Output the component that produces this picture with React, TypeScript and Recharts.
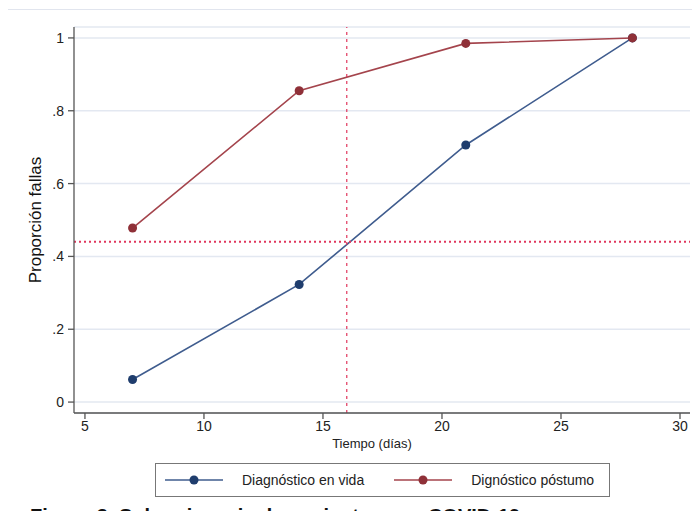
import React from 'react';
import {
  LineChart,
  Line,
  XAxis,
  YAxis,
  CartesianGrid,
  ReferenceLine,
} from 'recharts';

// days since onset
const xDays = [7, 14, 21, 28];
// proportion of failures per series
const vidaValues = [0.062, 0.323, 0.706, 1.0];
const postumoValues = [0.478, 0.855, 0.985, 1.0];

const xTicks = [5, 10, 15, 20, 25, 30];
const yTicks = [0, 0.2, 0.4, 0.6, 0.8, 1];

const cutoffDay = 16;
const cutoffProp = 0.44;

const SERIES = [
  { key: 'vida', name: 'Diagnóstico en vida', line: '#3f5c8e', dot: '#1f3d6d' },
  { key: 'postumo', name: 'Dignóstico póstumo', line: '#a4444c', dot: '#8f3038' },
];

const FONT = '"Liberation Sans", Arial, sans-serif';
const AXIS_COLOR = '#555';
const REF_COLOR = '#e0365c';

const fmtY = (v: number) => (v === 0 ? '0' : v === 1 ? '1' : String(v).replace(/^0/, ''));

export default function App() {
  const data = xDays.map((d, i) => ({
    dia: d,
    vida: vidaValues[i],
    postumo: postumoValues[i],
  }));

  return (
    <div
      style={{
        position: 'relative',
        width: 700,
        height: 519,
        margin: -8,
        overflow: 'hidden',
        background: '#fff',
        fontFamily: FONT,
      }}
    >
      <div
        style={{
          position: 'absolute',
          left: 5,
          top: 9,
          width: 740,
          height: 560,
          border: '1px solid #e1e5ee',
        }}
      />
      <div style={{ position: 'absolute', left: 0, top: 0 }}>
        <LineChart
          width={700}
          height={519}
          data={data}
          margin={{ top: 27, right: 10, bottom: 82, left: 14 }}
        >
          <CartesianGrid
            horizontal
            vertical={false}
            stroke="#e3e8f1"
            strokeWidth={1.5}
          />
          <XAxis
            dataKey="dia"
            type="number"
            domain={[4.54, 30.42]}
            ticks={xTicks}
            allowDataOverflow
            height={24}
            stroke={AXIS_COLOR}
            strokeWidth={1.3}
            tickSize={6}
            tickMargin={2}
            tick={{ fill: '#222', fontSize: 14, fontFamily: FONT }}
            label={{
              value: 'Tiempo (días)',
              position: 'bottom',
              offset: 2,
              dx: -10,
              fill: '#222',
              fontSize: 13,
              fontFamily: FONT,
            }}
          />
          <YAxis
            type="number"
            domain={[-0.03, 1.03]}
            ticks={yTicks}
            allowDataOverflow
            width={60}
            stroke={AXIS_COLOR}
            strokeWidth={1.3}
            tickSize={6}
            tickMargin={4}
            tickFormatter={fmtY}
            tick={{ fill: '#222', fontSize: 14, fontFamily: FONT }}
            label={{
              value: 'Proporción fallas',
              angle: -90,
              position: 'center',
              dx: -9,
              fill: '#111',
              fontSize: 17,
              fontFamily: FONT,
            }}
          />
          {SERIES.map((s) => (
            <Line
              key={s.key}
              dataKey={s.key}
              name={s.name}
              type="linear"
              stroke={s.line}
              strokeWidth={1.6}
              dot={{ r: 4.5, fill: s.dot, stroke: s.dot, strokeWidth: 0 }}
              activeDot={false}
              isAnimationActive={false}
            />
          ))}
          <ReferenceLine
            x={cutoffDay}
            stroke={REF_COLOR}
            strokeWidth={1.2}
            strokeDasharray="3 4"
          />
          <ReferenceLine
            y={cutoffProp}
            stroke={REF_COLOR}
            strokeWidth={2}
            strokeDasharray="2 3"
          />
        </LineChart>
      </div>

      <div
        style={{
          position: 'absolute',
          left: 155,
          top: 463,
          width: 453,
          height: 32,
          border: '1px solid #777',
          background: '#fff',
          display: 'flex',
          alignItems: 'center',
          fontSize: 14,
          color: '#222',
        }}
      >
        {SERIES.map((s, i) => (
          <div
            key={s.key}
            style={{ display: 'flex', alignItems: 'center', marginLeft: i === 0 ? 9 : 30 }}
          >
            <svg width={58} height={12}>
              <line x1={0} y1={6} x2={58} y2={6} stroke={s.line} strokeWidth={1.6} />
              <circle cx={29} cy={6} r={4.5} fill={s.dot} />
            </svg>
            <span style={{ marginLeft: 19 }}>{s.name}</span>
          </div>
        ))}
      </div>

      <div
        style={{
          position: 'absolute',
          left: 30,
          top: 505,
          fontSize: 20,
          fontWeight: 'bold',
          color: '#111',
          whiteSpace: 'nowrap',
        }}
      >
        Figura 3. Sobrevivencia de pacientes con COVID-19
      </div>
    </div>
  );
}
